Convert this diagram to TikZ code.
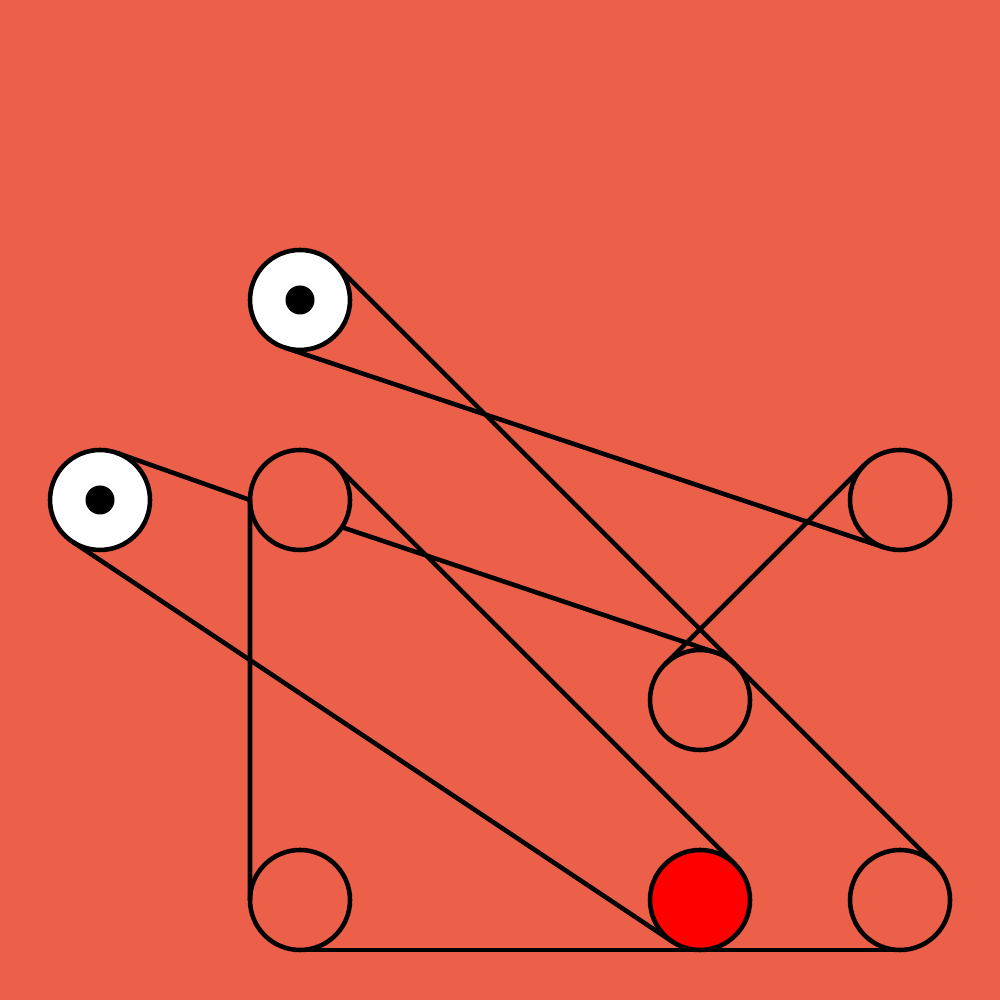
\documentclass[tikz,border=0pt]{standalone}
\usetikzlibrary{calc}
\definecolor{bgorange}{RGB}{236,96,74}
\tikzset{
	pulley/.style={circle, draw=black, line width=1.3pt, minimum size=1cm, inner sep=0pt, outer sep=0pt},
	belt/.style={line width=1.3pt}
}
\begin{document}
\begin{tikzpicture}
	%%%%% START %%%%%
	
	\fill[bgorange] (0,0) rectangle (10,10);
	\useasboundingbox (0,0) rectangle (10,10);
	
	% pulleys
	\node[pulley, fill=white] (top) at (3,7) {};
	\fill[black] (top.center) circle (0.145);
	\node[pulley, fill=white] (left) at (1,5) {};
	\fill[black] (left.center) circle (0.145);
	\node[pulley] (mid) at (3,5) {};
	\node[pulley] (right) at (9,5) {};
	\node[pulley] (centre) at (7,3) {};
	\node[pulley] (lowleft) at (3,1) {};
	\node[pulley, fill=red] (red) at (7,1) {};
	\node[pulley] (lowright) at (9,1) {};
	
	% belt
	\draw[belt] (top.45) -- (lowright.45);
	\draw[belt] (top.-108.43) -- (right.-108.43);
	\draw[belt] (left.70.5) -- (mid.west) -- (lowleft.west);
	\draw[belt] (lowleft.south) -- (lowright.south);
	\draw[belt] (mid.45) -- (red.45);
	\draw[belt] (mid.-33) -- (centre.72);
	\draw[belt] (right.135) -- (centre.135);
	\draw[belt] (left.-123.69) -- (red.-123.69);
	
	%%%%% END %%%%%
\end{tikzpicture}
\end{document}
